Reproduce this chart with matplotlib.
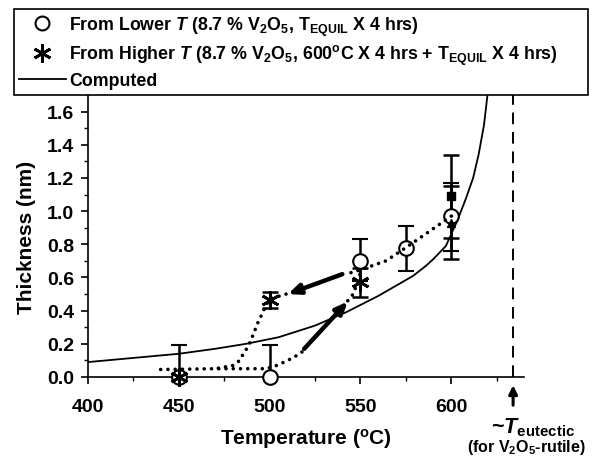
import numpy as np
import matplotlib
matplotlib.use('Agg')
import matplotlib.pyplot as plt
from matplotlib.lines import Line2D

plt.rcParams['font.family'] = ['Liberation Sans', 'DejaVu Sans']
plt.rcParams['font.weight'] = 'bold'
plt.rcParams['mathtext.fontset'] = 'custom'
plt.rcParams['mathtext.rm'] = 'Liberation Sans:bold'
plt.rcParams['mathtext.it'] = 'Liberation Sans:bold:italic'
plt.rcParams['mathtext.bf'] = 'Liberation Sans:bold'
plt.rcParams['mathtext.default'] = 'rm'

# data
# from lower T (open circles)
T_low = [450, 500, 550, 575, 600]
h_low = [0.0, 0.0, 0.70, 0.78, 0.97]
err_low_dn = [0.0, 0.0, 0.12, 0.14, 0.21]
err_low_up = [0.19, 0.19, 0.13, 0.13, 0.20]

# from higher T (asterisks)
T_high = [450, 500, 550]
h_high = [0.0, 0.465, 0.57]
err_high = [0.0, 0.05, 0.085]

# extra points at 600 C
T_sq, h_sq, err_sq = 600, 1.09, 0.25
T_tri, h_tri, err_tri = 600, 0.93, 0.22

# computed curve
T_calc = [400, 425, 450, 470, 487, 505, 525, 542, 560, 579, 586, 590, 597, 603, 608, 612, 615, 618, 620]
h_calc = [0.09, 0.115, 0.14, 0.17, 0.20, 0.24, 0.31, 0.39, 0.49, 0.61, 0.67, 0.71, 0.79, 0.935, 1.075, 1.20, 1.34, 1.52, 1.71]

# dotted guide paths
path_lo_T = [440, 470, 498, 504, 510, 515, 519]
path_lo_h = [0.045, 0.05, 0.05, 0.07, 0.10, 0.13, 0.16]
path_lo2_T = [543, 546, 548, 550]
path_lo2_h = [0.46, 0.50, 0.56, 0.63]
path_hi_T = [600, 575, 564, 551, 542]
path_hi_h = [0.97, 0.78, 0.70, 0.65, 0.62]
path_hi2_T = [509, 500, 497, 495.4, 493.6, 491.8, 490, 488, 486, 483.5, 480, 470]
path_hi2_h = [0.50, 0.47, 0.41, 0.37, 0.33, 0.28, 0.23, 0.18, 0.15, 0.10, 0.07, 0.05]

T_eut = 634

fig = plt.figure(figsize=(5.92, 4.6), dpi=100)
ax = fig.add_axes([88/592, 1-378/460, (524-88)/592, (378-96)/460])

dot_kw = dict(color='black', lw=2.6, linestyle=(0, (0.01, 2.0)), dash_capstyle='round', zorder=4)
for tx, hy in [(path_lo_T, path_lo_h), (path_lo2_T, path_lo2_h), (path_hi_T, path_hi_h), (path_hi2_T, path_hi2_h)]:
    ax.plot(tx, hy, **dot_kw)

ax.plot(T_calc, h_calc, color='black', lw=1.3, zorder=2)

eb_kw = dict(ecolor='black', elinewidth=1.8, capsize=6, capthick=1.8, linestyle='none', clip_on=False)
ax.errorbar(T_low, h_low, yerr=[err_low_dn, err_low_up], fmt='o', ms=10.5, mfc='white', mec='black', mew=1.5, zorder=3, **eb_kw)
ax.errorbar(T_high, h_high, yerr=err_high, fmt='none', zorder=3, **eb_kw)
ax.plot(T_high, h_high, linestyle='none', marker=(6, 2, 0), ms=13, mec='black', mew=2.0, zorder=5, clip_on=False)
ax.errorbar([T_sq], [h_sq], yerr=err_sq, fmt='s', ms=6, color='black', zorder=3, **eb_kw)
ax.errorbar([T_tri], [h_tri], yerr=err_tri, fmt='^', ms=6, color='black', zorder=3, **eb_kw)

# thick arrows
ax.annotate('', xy=(543, 0.455), xytext=(519, 0.17),
            arrowprops=dict(arrowstyle='-|>,head_length=0.7,head_width=0.3', color='black', lw=3.2, shrinkA=0, shrinkB=0))
ax.annotate('', xy=(510, 0.50), xytext=(540, 0.62),
            arrowprops=dict(arrowstyle='-|>,head_length=0.7,head_width=0.3', color='black', lw=3.2, shrinkA=0, shrinkB=0))

# eutectic line
ax.plot([T_eut, T_eut], [0, 1.70], color='black', lw=1.4, linestyle=(0, (6, 4)))
ax.annotate('', xy=(T_eut, -0.05), xytext=(T_eut, -0.17), annotation_clip=False,
            arrowprops=dict(arrowstyle='-|>,head_length=0.5,head_width=0.25', color='black', lw=2.2, shrinkA=0, shrinkB=0))

ax.set_xlim(400, 640)
ax.set_ylim(0, 1.70)
ax.set_xticks([400, 450, 500, 550, 600])
ax.set_xticks([425, 475, 525, 575, 625], minor=True)
ax.set_yticks(np.arange(0, 1.61, 0.2))
ax.set_yticks(np.arange(0.1, 1.61, 0.2), minor=True)
ax.set_yticklabels(['%.1f' % v for v in np.arange(0, 1.61, 0.2)])
ax.tick_params(axis='both', which='major', direction='out', length=5, width=1.2, labelsize=14)
ax.tick_params(axis='x', which='major', pad=10)
ax.tick_params(axis='y', which='major', pad=5)
ax.tick_params(axis='both', which='minor', direction='out', length=3, width=1.0)
for lab in ax.get_xticklabels() + ax.get_yticklabels():
    lab.set_fontweight('bold')
ax.spines['top'].set_visible(False)
ax.spines['right'].set_visible(False)
ax.spines['left'].set_linewidth(1.2)
ax.spines['bottom'].set_linewidth(1.2)

ax.set_xlabel('Temperature ($^{o}$C)', fontsize=15, fontweight='bold', labelpad=8)
ax.set_ylabel('Thickness (nm)', fontsize=15, fontweight='bold', labelpad=8)

fig.text(533/592, 1-428/460, r'~$\mathit{T}_{eutectic}$', ha='center', va='center', fontsize=15.5, fontweight='bold')
fig.text(526/592, 1-448/460, '(for V$_2$O$_5$-rutile)', ha='center', va='center', fontsize=11.5, fontweight='bold')

handles = [
    Line2D([], [], linestyle='none', marker='o', ms=10, mfc='white', mec='black', mew=1.5),
    Line2D([], [], linestyle='none', marker=(6, 2, 0), ms=13, mec='black', mew=2.0),
    Line2D([], [], color='black', lw=1.3),
]
labels = [
    r'From Lower $\mathit{T}$ (8.7 % V$_2$O$_5$, T$_{EQUIL}$ X 4 hrs)',
    r'From Higher $\mathit{T}$ (8.7 % V$_2$O$_5$, 600$^{o}$C X 4 hrs + T$_{EQUIL}$ X 4 hrs)',
    'Computed',
]
leg = fig.legend(handles, labels, loc='upper left', bbox_to_anchor=(14/592, 1-10/460, (588-14)/592, 0),
                 mode='expand', frameon=True, fancybox=False, edgecolor='black', framealpha=1,
                 fontsize=12.8, handlelength=2.6, handletextpad=0.2, labelspacing=0.3,
                 borderpad=0.3, borderaxespad=0)
leg.get_frame().set_linewidth(1.2)
for t in leg.get_texts():
    t.set_fontweight('bold')

fig.savefig('out.png', dpi=100)
